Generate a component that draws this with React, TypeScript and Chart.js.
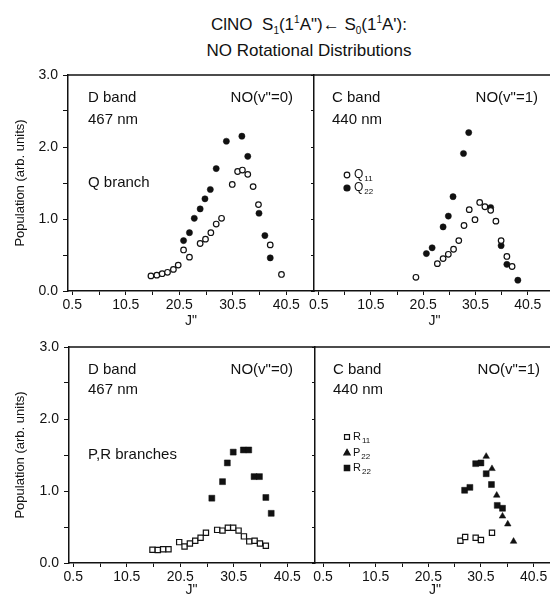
import React, { useEffect, useRef } from 'react';
import { Chart, registerables } from 'chart.js';

Chart.register(...registerables);

const FONT = "'Liberation Sans', Arial, Helvetica, sans-serif";
const INK = '#111';

// ---------- axis ticks ----------
const xMajorTicks = [0.5, 10.5, 20.5, 30.5, 40.5];
const xMinorTicks = [5.5, 15.5, 25.5, 35.5];
const yMajorTicks = [0, 1, 2, 3];
const yTickLabels = ['0.0', '1.0', '2.0', '3.0'];
const yMinorTicks = [0.5, 1.5, 2.5];
const xTitle = 'J"';
const yTitle = 'Population (arb. units)';

// ---------- D band (467 nm), NO(v"=0), Q branch ----------
const dQ11J = [15.2, 16.3, 17.3, 18.3, 19.4, 20.3, 21.3, 22.4, 24.4, 25.4, 26.4, 27.4, 28.4, 30.4, 31.4, 32.3, 33.3, 34.3, 35.3, 37.5, 39.6];
const dQ11Pop = [0.21, 0.22, 0.24, 0.26, 0.3, 0.36, 0.57, 0.47, 0.66, 0.72, 0.81, 0.93, 1.01, 1.48, 1.66, 1.68, 1.62, 1.45, 1.2, 0.64, 0.23];
const dQ22J = [21.3, 22.4, 23.3, 24.4, 25.3, 26.3, 27.4, 29.3, 32.2, 33.3, 35.4, 36.5, 37.5];
const dQ22Pop = [0.7, 0.81, 1.01, 1.14, 1.28, 1.41, 1.7, 2.08, 2.15, 1.87, 1.08, 0.77, 0.46];

// ---------- C band (440 nm), NO(v"=1), Q branch ----------
const cQ11J = [19.1, 23.2, 24.3, 25.3, 26.3, 27.3, 28.3, 29.3, 30.4, 31.3, 32.3, 33.4, 34.4, 35.4, 36.5, 37.5];
const cQ11Pop = [0.19, 0.38, 0.45, 0.51, 0.58, 0.7, 0.91, 1.13, 0.99, 1.23, 1.17, 1.12, 0.97, 0.7, 0.48, 0.34];
const cQ22J = [21.1, 22.2, 24.3, 25.3, 26.2, 28.2, 29.2, 33.4, 35.4, 36.5, 38.6];
const cQ22Pop = [0.52, 0.6, 0.89, 1.04, 1.31, 1.91, 2.2, 1.16, 0.63, 0.37, 0.15];

// ---------- D band (467 nm), NO(v"=0), P,R branches ----------
const dR11J = [15.3, 16.3, 17.3, 18.3, 20.3, 21.3, 22.3, 23.3, 24.3, 25.3, 27.4, 28.4, 29.4, 30.4, 31.4, 32.4, 33.4, 34.4, 35.4, 36.5];
const dR11Pop = [0.185, 0.18, 0.19, 0.19, 0.29, 0.23, 0.27, 0.31, 0.35, 0.42, 0.46, 0.45, 0.49, 0.49, 0.45, 0.37, 0.3, 0.31, 0.27, 0.24];
const dR22J = [26.4, 28.4, 29.3, 30.4, 32.3, 33.3, 34.3, 35.3, 36.5, 37.5];
const dR22Pop = [0.9, 1.13, 1.39, 1.54, 1.57, 1.57, 1.2, 1.2, 0.91, 0.69];

// ---------- C band (440 nm), NO(v"=1), P,R branches ----------
const cR11J = [26.6, 27.5, 29.5, 30.5, 32.6];
const cR11Pop = [0.31, 0.36, 0.35, 0.32, 0.42];
const cP22J = [31.5, 32.6, 33.5, 34.6, 35.6, 36.7];
const cP22Pop = [1.48, 1.31, 0.94, 0.65, 0.54, 0.3];
const cR22J = [27.4, 28.4, 29.5, 30.5, 31.5, 32.5, 33.6, 34.6];
const cR22Pop = [1.01, 1.05, 1.38, 1.39, 1.24, 1.09, 0.8, 0.76];

const pts = (xs: number[], ys: number[]) => xs.map((x, i) => ({ x, y: ys[i] }));

type MarkerStyle = 'circle' | 'rect' | 'triangle';

const openCircle = (label: string, data: any[]) => ({
  label, data, pointStyle: 'circle', pointRadius: 2.8, pointBackgroundColor: '#fff',
  pointBorderColor: INK, pointBorderWidth: 1.2,
});
const filledCircle = (label: string, data: any[]) => ({
  label, data, pointStyle: 'circle', pointRadius: 3.1, pointBackgroundColor: INK,
  pointBorderColor: INK, pointBorderWidth: 0.5,
});
const openSquare = (label: string, data: any[]) => ({
  label, data, pointStyle: 'rect', pointRadius: 3.7, pointBackgroundColor: '#fff',
  pointBorderColor: INK, pointBorderWidth: 1.2,
});
const filledSquare = (label: string, data: any[]) => ({
  label, data, pointStyle: 'rect', pointRadius: 4.2, pointBackgroundColor: INK,
  pointBorderColor: INK, pointBorderWidth: 0.5,
});
const filledTriangle = (label: string, data: any[]) => ({
  label, data, pointStyle: 'triangle', pointRadius: 3.8, pointBackgroundColor: INK,
  pointBorderColor: INK, pointBorderWidth: 0.5,
});

function drawMarker(ctx: CanvasRenderingContext2D, style: MarkerStyle, x: number, y: number, r: number, filled: boolean) {
  ctx.beginPath();
  if (style === 'circle') {
    ctx.arc(x, y, r, 0, Math.PI * 2);
  } else if (style === 'rect') {
    const s = Math.SQRT1_2 * r;
    ctx.rect(x - s, y - s, 2 * s, 2 * s);
  } else {
    let a = 0;
    ctx.moveTo(x + Math.sin(a) * r, y - Math.cos(a) * r);
    a += (2 * Math.PI) / 3;
    ctx.lineTo(x + Math.sin(a) * r, y - Math.cos(a) * r);
    a += (2 * Math.PI) / 3;
    ctx.lineTo(x + Math.sin(a) * r, y - Math.cos(a) * r);
    ctx.closePath();
  }
  ctx.fillStyle = filled ? INK : '#fff';
  ctx.fill();
  ctx.lineWidth = 1.2;
  ctx.strokeStyle = INK;
  ctx.stroke();
}

interface TextItem { text: string; dx: number; dy: number; align?: 'left' | 'right'; }
interface LegendItem { style: MarkerStyle; filled: boolean; r: number; dx: number; dy: number; tx: number; text: string; sub: string; size: number; }

interface PanelSpec {
  left: number; top: number; width: number; height: number;
  padTop: number; padRight: number;
  yWidth: number; xHeight: number; xTitlePad: number;
  xMin: number; xMax: number;
  showY: boolean;
  datasets: any[];
  texts: TextItem[];
  legend: LegendItem[];
}

function annotPlugin(p: PanelSpec) {
  return {
    id: 'panelAnnot',
    afterDraw(chart: any) {
      const { ctx, chartArea: a } = chart;
      ctx.save();
      // top frame line
      ctx.strokeStyle = INK;
      ctx.lineWidth = 1.5;
      ctx.beginPath();
      ctx.moveTo(a.left, a.top);
      ctx.lineTo(a.right, a.top);
      ctx.stroke();
      ctx.fillStyle = INK;
      ctx.textBaseline = 'middle';
      for (const t of p.texts) {
        ctx.font = `15px ${FONT}`;
        ctx.textAlign = t.align || 'left';
        ctx.fillStyle = INK;
        ctx.fillText(t.text, a.left + t.dx, a.top + t.dy);
      }
      for (const l of p.legend) {
        drawMarker(ctx, l.style, a.left + l.dx, a.top + l.dy, l.r, l.filled);
        ctx.fillStyle = INK;
        ctx.textAlign = 'left';
        ctx.font = `${l.size}px ${FONT}`;
        ctx.fillText(l.text, a.left + l.tx, a.top + l.dy);
        const w = ctx.measureText(l.text).width;
        ctx.font = `${Math.round(l.size * 0.7)}px ${FONT}`;
        ctx.fillText(l.sub, a.left + l.tx + w + 1, a.top + l.dy + 4);
      }
      ctx.restore();
    },
  };
}

function buildConfig(p: PanelSpec) {
  const xTicks = [...xMajorTicks, ...xMinorTicks].filter((v) => v >= p.xMin && v <= p.xMax).sort((a, b) => a - b);
  const yTicks = [...yMajorTicks, ...yMinorTicks].sort((a, b) => a - b);
  return {
    type: 'scatter',
    data: { datasets: p.datasets },
    options: {
      animation: false,
      responsive: false,
      devicePixelRatio: 1,
      events: [],
      layout: { padding: { top: p.padTop, right: p.padRight, left: 0, bottom: 0 } },
      plugins: { legend: { display: false }, tooltip: { enabled: false }, title: { display: false } },
      scales: {
        x: {
          type: 'linear',
          min: p.xMin,
          max: p.xMax,
          afterBuildTicks: (s: any) => { s.ticks = xTicks.map((v) => ({ value: v })); },
          afterFit: (s: any) => { s.height = p.xHeight; },
          ticks: {
            autoSkip: false, maxRotation: 0, minRotation: 0, padding: 2, color: INK,
            font: { size: 14, family: FONT },
            callback: (v: any) => { const i = xMajorTicks.indexOf(Number(v)); return i >= 0 ? String(xMajorTicks[i]) : ''; },
          },
          grid: { drawOnChartArea: false, drawTicks: true, tickLength: 4, color: INK, lineWidth: 1 },
          border: { display: true, color: INK, width: 1.5 },
          title: { display: true, text: xTitle, color: INK, font: { size: 14, family: FONT }, padding: { top: 0, bottom: p.xTitlePad } },
        },
        y: {
          type: 'linear',
          min: 0,
          max: 3,
          afterBuildTicks: (s: any) => { s.ticks = yTicks.map((v) => ({ value: v })); },
          afterFit: (s: any) => { s.width = p.yWidth; },
          ticks: {
            display: p.showY, autoSkip: false, padding: 5, color: INK,
            font: { size: 14, family: FONT },
            callback: (v: any) => { const i = yMajorTicks.indexOf(Number(v)); return i >= 0 ? yTickLabels[i] : ''; },
          },
          grid: { drawOnChartArea: false, drawTicks: true, tickLength: p.showY ? 5 : 3, color: INK, lineWidth: 1 },
          border: { display: true, color: INK, width: 1.5 },
          title: { display: p.showY, text: yTitle, color: INK, font: { size: 13, family: FONT }, padding: { top: 13, bottom: 0 } },
        },
      },
    },
    plugins: [annotPlugin(p)],
  };
}

const panels: PanelSpec[] = [
  {
    left: 0, top: 60, width: 320, height: 270, padTop: 15, padRight: 6,
    yWidth: 68, xHeight: 39, xTitlePad: 0, xMin: -0.3, xMax: 45.68, showY: true,
    datasets: [openCircle('Q11', pts(dQ11J, dQ11Pop)), filledCircle('Q22', pts(dQ22J, dQ22Pop))],
    texts: [
      { text: 'D band', dx: 20, dy: 23 },
      { text: '467 nm', dx: 20, dy: 45 },
      { text: 'NO(v"=0)', dx: 225, dy: 23, align: 'right' },
      { text: 'Q branch', dx: 20, dy: 108 },
    ],
    legend: [],
  },
  {
    left: 300, top: 60, width: 260, height: 270, padTop: 15, padRight: 0,
    yWidth: 14, xHeight: 39, xTitlePad: 0, xMin: -0.4, xMax: 45.67, showY: false,
    datasets: [openCircle('Q11', pts(cQ11J, cQ11Pop)), filledCircle('Q22', pts(cQ22J, cQ22Pop))],
    texts: [
      { text: 'C band', dx: 18, dy: 23 },
      { text: '440 nm', dx: 18, dy: 45 },
      { text: 'NO(v"=1)', dx: 224, dy: 23, align: 'right' },
    ],
    legend: [
      { style: 'circle', filled: false, r: 2.8, dx: 33, dy: 100, tx: 40, text: 'Q', sub: '11', size: 12 },
      { style: 'circle', filled: true, r: 3, dx: 33, dy: 113, tx: 40, text: 'Q', sub: '22', size: 12 },
    ],
  },
  {
    left: 0, top: 330, width: 320, height: 265, padTop: 17, padRight: 6,
    yWidth: 69, xHeight: 32, xTitlePad: -4, xMin: -0.3, xMax: 45.5, showY: true,
    datasets: [openSquare('R11', pts(dR11J, dR11Pop)), filledSquare('R22', pts(dR22J, dR22Pop))],
    texts: [
      { text: 'D band', dx: 19, dy: 23 },
      { text: '467 nm', dx: 19, dy: 43 },
      { text: 'NO(v"=0)', dx: 224, dy: 23, align: 'right' },
      { text: 'P,R branches', dx: 19, dy: 108 },
    ],
    legend: [],
  },
  {
    left: 300, top: 330, width: 260, height: 265, padTop: 17, padRight: 0,
    yWidth: 15, xHeight: 32, xTitlePad: -4, xMin: -1.04, xMax: 44.54, showY: false,
    datasets: [
      openSquare('R11', pts(cR11J, cR11Pop)),
      filledTriangle('P22', pts(cP22J, cP22Pop)),
      filledSquare('R22', pts(cR22J, cR22Pop)),
    ],
    texts: [
      { text: 'C band', dx: 18, dy: 23 },
      { text: '440 nm', dx: 18, dy: 43 },
      { text: 'NO(v"=1)', dx: 225, dy: 23, align: 'right' },
    ],
    legend: [
      { style: 'rect', filled: false, r: 3.5, dx: 32, dy: 90, tx: 38, text: 'R', sub: '11', size: 11 },
      { style: 'triangle', filled: true, r: 3.6, dx: 32, dy: 106, tx: 38, text: 'P', sub: '22', size: 11 },
      { style: 'rect', filled: true, r: 3.8, dx: 32, dy: 121, tx: 38, text: 'R', sub: '22', size: 11 },
    ],
  },
];

function Panel({ spec }: { spec: PanelSpec }) {
  const ref = useRef<HTMLCanvasElement | null>(null);
  useEffect(() => {
    if (!ref.current) return;
    const chart = new Chart(ref.current, buildConfig(spec) as any);
    return () => chart.destroy();
  }, [spec]);
  return (
    <canvas
      ref={ref}
      width={spec.width}
      height={spec.height}
      style={{ position: 'absolute', left: spec.left, top: spec.top, width: spec.width, height: spec.height }}
    />
  );
}

const subStyle: React.CSSProperties = { fontSize: 10, position: 'relative', top: 4 };
const supStyle: React.CSSProperties = { fontSize: 10, position: 'relative', top: -7 };

export default function App() {
  return (
    <div
      style={{
        position: 'absolute', left: 0, top: 0, width: 550, height: 595, overflow: 'hidden',
        background: '#fff', fontFamily: FONT, color: INK,
      }}
    >
      <div
        style={{
          position: 'absolute', left: 109, top: 13, width: 400, textAlign: 'center',
          fontSize: 17, lineHeight: '24px', whiteSpace: 'nowrap',
        }}
      >
        <div>
          ClNO{'\u00a0 '}S<span style={subStyle}>1</span>(1<span style={supStyle}>1</span>A")← S<span style={subStyle}>0</span>(1<span style={supStyle}>1</span>A'):
        </div>
        <div>NO Rotational Distributions</div>
      </div>
      {panels.map((p, i) => (
        <Panel key={i} spec={p} />
      ))}
    </div>
  );
}
